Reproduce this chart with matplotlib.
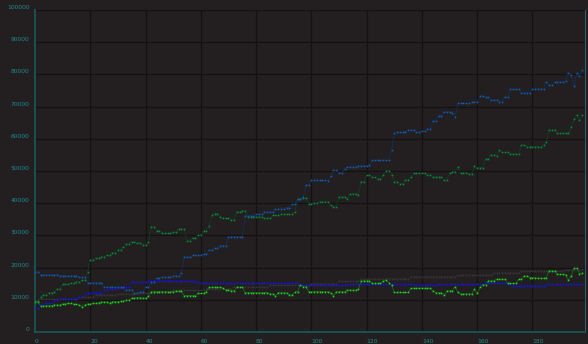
import numpy as np
import matplotlib
matplotlib.use("Agg")
import matplotlib.pyplot as plt

# Each series is a list of (first index, level in thousands); a level holds until the next entry.
N_POINTS = 199

steel_steps = [(0, 18.7), (2, 17.8), (9, 17.5), (16, 17.0), (19, 15.3), (25, 14.0), (33, 13.1),
               (36, 12.0), (38, 12.5), (40, 14.0), (42, 15.4), (44, 16.7), (46, 17.0), (50, 17.5),
               (53, 18.4), (54, 23.4), (57, 23.8), (61, 24.2), (63, 25.5), (65, 26.0), (67, 26.8),
               (70, 29.6), (76, 36.1), (80, 36.5), (83, 37.3), (87, 38.2), (91, 38.6), (93, 39.6),
               (95, 41.2), (97, 42.0), (98, 45.7), (100, 47.1), (106, 46.9), (107, 48.4), (108, 50.2),
               (110, 49.5), (112, 50.5), (113, 51.3), (117, 51.7), (121, 51.9), (122, 53.3),
               (129, 56.5), (130, 61.7), (131, 62.0), (133, 62.1), (135, 62.7), (138, 62.0),
               (140, 62.4), (142, 63.1), (144, 65.6), (146, 67.1), (148, 68.4), (151, 67.9),
               (152, 66.9), (153, 71.0), (158, 71.5), (161, 73.3), (163, 72.9), (165, 72.0),
               (168, 71.5), (170, 73.1), (172, 75.4), (176, 74.3), (180, 75.5), (185, 77.7),
               (186, 76.7), (188, 77.7), (192, 78.0), (193, 80.5), (194, 79.8), (195, 76.4),
               (196, 80.3), (197, 79.5), (198, 81.4)]

forest_steps = [(0, 9.6), (2, 10.8), (3, 11.5), (5, 12.2), (7, 12.5), (8, 13.4), (10, 14.9),
                (13, 15.1), (15, 15.6), (17, 16.1), (19, 18.7), (20, 22.4), (22, 22.9), (24, 23.4),
                (26, 23.9), (28, 24.6), (30, 25.5), (32, 26.3), (33, 27.3), (35, 28.0), (37, 27.7),
                (39, 27.0), (41, 28.0), (42, 32.7), (44, 31.5), (46, 30.6), (50, 31.0), (52, 32.0),
                (55, 28.4), (57, 29.1), (59, 30.1), (61, 31.5), (63, 32.9), (64, 36.3), (65, 36.8),
                (67, 35.8), (68, 35.3), (71, 34.8), (73, 37.3), (75, 37.7), (77, 35.8), (83, 35.3),
                (86, 36.3), (89, 36.6), (94, 37.3), (95, 41.2), (97, 41.5), (99, 39.8), (101, 40.0),
                (103, 40.5), (107, 39.4), (108, 38.9), (110, 42.0), (113, 41.3), (114, 42.9),
                (117, 42.5), (118, 46.7), (120, 48.7), (122, 48.0), (124, 47.6), (126, 48.7),
                (127, 50.1), (129, 48.8), (130, 46.7), (132, 46.0), (134, 47.2), (136, 48.2),
                (137, 49.3), (142, 48.8), (144, 48.2), (147, 48.0), (148, 47.2), (150, 49.3),
                (151, 49.8), (153, 51.3), (154, 49.5), (157, 49.1), (159, 51.6), (160, 51.0),
                (163, 53.8), (165, 55.0), (167, 54.7), (168, 56.5), (169, 55.8), (172, 55.3),
                (176, 58.1), (178, 57.6), (184, 58.1), (185, 59.1), (186, 62.7), (189, 61.7),
                (194, 63.6), (195, 66.0), (196, 67.4), (197, 65.8), (198, 67.4)]

lime_steps = [(0, 9.4), (2, 8.1), (4, 8.2), (7, 8.4), (10, 8.7), (12, 8.9), (14, 8.6), (16, 8.4),
              (17, 7.9), (18, 8.4), (19, 8.7), (21, 8.9), (23, 9.1), (24, 9.3), (27, 8.9), (28, 9.4),
              (31, 9.6), (33, 9.9), (35, 10.5), (37, 10.7), (39, 10.5), (41, 11.2), (42, 12.5),
              (51, 12.6), (54, 11.3), (59, 12.0), (62, 12.5), (63, 13.9), (68, 13.6), (69, 13.0),
              (71, 12.8), (73, 13.9), (76, 12.2), (85, 11.8), (87, 11.3), (88, 12.2), (92, 11.5),
              (94, 12.3), (95, 12.5), (96, 14.6), (97, 14.1), (99, 12.5), (107, 12.0), (108, 11.3),
              (109, 12.5), (113, 13.0), (117, 13.3), (118, 15.9), (122, 15.1), (126, 15.8),
              (127, 16.1), (128, 15.3), (129, 14.6), (130, 12.3), (136, 13.6), (144, 12.8),
              (145, 12.2), (148, 11.5), (149, 12.8), (152, 14.1), (153, 12.3), (154, 11.8),
              (159, 13.3), (160, 12.0), (161, 13.9), (162, 14.7), (164, 15.9), (167, 16.4),
              (171, 15.1), (175, 16.4), (177, 17.4), (179, 16.9), (182, 16.7), (185, 16.9),
              (186, 19.0), (189, 17.9), (192, 17.7), (193, 16.1), (194, 17.4), (195, 19.8),
              (197, 18.0), (198, 18.4)]

blue_steps = [(0, 7.5), (2, 8.4), (4, 8.9), (6, 9.1), (7, 9.9), (9, 10.2), (12, 10.3), (16, 11.0),
              (17, 11.2), (18, 11.8), (19, 12.0), (21, 12.2), (25, 13.0), (27, 13.3), (30, 13.8),
              (33, 14.1), (35, 15.4), (41, 15.9), (58, 15.6), (60, 15.1), (96, 14.7), (108, 14.6),
              (113, 14.8), (117, 14.9), (137, 14.6), (146, 14.8), (163, 15.1), (171, 14.8),
              (173, 14.4), (185, 14.8), (195, 14.9)]

gray_steps = [(0, 9.8), (2, 10.1), (10, 10.4), (16, 10.8), (22, 11.5), (30, 11.8), (37, 12.0),
              (44, 12.5), (50, 13.0), (62, 13.5), (72, 14.0), (85, 14.5), (100, 15.0), (110, 15.8),
              (118, 16.4), (128, 16.6), (136, 17.2), (153, 17.7), (166, 18.4), (176, 18.9),
              (192, 19.4), (198, 19.6)]

x_ticks = [0, 20, 40, 60, 80, 100, 120, 140, 160, 180]
y_ticks = [0, 10000, 20000, 30000, 40000, 50000, 60000, 70000, 80000, 90000, 100000]


def expand(steps):
    starts = [s for s, _ in steps] + [N_POINTS]
    levels = np.array([v for _, v in steps]) * 1000.0
    return np.repeat(levels, np.diff(starts))


BG = "#231f20"
TEXT = "#1f8c8c"

fig = plt.figure(figsize=(5.88, 3.44), dpi=100, facecolor=BG)
ax = fig.add_axes([35 / 588, 12 / 344, 550 / 588, 322 / 344], facecolor=BG)

x = np.arange(N_POINTS)
series = [
    (gray_steps, "#383838", "#2b2a2b"),
    (blue_steps, "#1818e0", "#10108a"),
    (lime_steps, "#22d822", "#107a10"),
    (forest_steps, "#0f8a40", "#0a4424"),
    (steel_steps, "#1a5cae", "#0d3262"),
]
for steps, mcol, lcol in series:
    y = expand(steps)
    ax.plot(x, y, color=lcol, lw=0.5, zorder=2)
    ax.plot(x, y, ls="none", marker="s", ms=1.15, mew=0, color=mcol, zorder=3)

ax.set_xlim(0, 199)
ax.set_ylim(0, 100000)
ax.set_xticks(x_ticks)
ax.set_yticks(y_ticks)
ax.set_xticklabels([str(v) for v in x_ticks], ha="left")
ax.set_yticklabels([str(v) for v in y_ticks], va="bottom")
ax.tick_params(axis="both", length=0, colors=TEXT, labelsize=4.3)
ax.tick_params(axis="x", pad=5)
ax.tick_params(axis="y", pad=4)
ax.grid(True, color="#141113", lw=0.9, zorder=0)

for side in ("left", "bottom"):
    ax.spines[side].set_color("#1c5252")
    ax.spines[side].set_linewidth(1.4)
ax.spines["right"].set_color("#2e5c66")
ax.spines["right"].set_linewidth(0.8)
ax.spines["top"].set_visible(False)

fig.savefig("out.png", dpi=100, facecolor=BG)
